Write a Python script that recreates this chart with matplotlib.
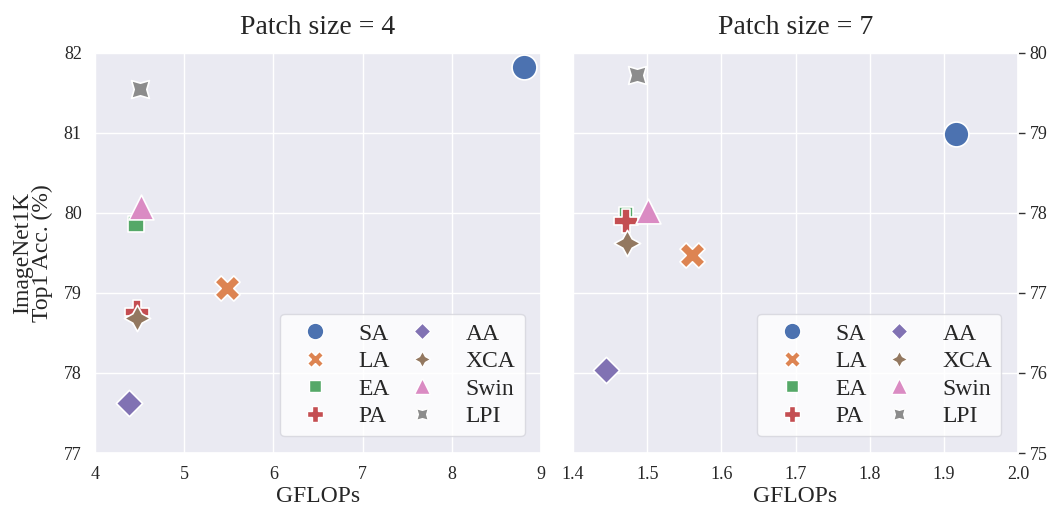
import matplotlib
matplotlib.use("Agg")
import matplotlib.pyplot as plt
from matplotlib.lines import Line2D
import seaborn as sns

sns.set_theme(style="darkgrid")
plt.rcParams['font.family'] = ['Liberation Serif', 'DejaVu Serif']

# methods and marker styles (seaborn defaults)
methods = ["SA", "LA", "EA", "PA", "AA", "XCA", "Swin", "LPI"]
markers = ["o", "X", (4, 0, 45), "P", (4, 0, 0), (4, 1, 0), "^", (4, 1, 45)]
colors = sns.color_palette("deep", 8)

# Patch size = 4
gflops_p4 = [8.81, 5.48, 4.46, 4.47, 4.38, 4.47, 4.51, 4.50]
acc_p4 = [81.82, 79.06, 79.86, 78.76, 77.63, 78.69, 80.08, 81.55]
sizes_p4 = [320, 330, 280, 300, 360, 360, 320, 330]

# Patch size = 7
gflops_p7 = [1.917, 1.561, 1.472, 1.472, 1.445, 1.473, 1.501, 1.486]
acc_p7 = [78.99, 77.48, 77.99, 77.9, 76.04, 77.63, 78.03, 79.72]
sizes_p7 = [320, 330, 180, 300, 360, 360, 320, 330]

fig = plt.figure(figsize=(10.51, 5.07), dpi=100)
ax1 = fig.add_axes([0.0904, 0.1065, 0.4244, 0.789])
ax2 = fig.add_axes([0.5452, 0.1065, 0.4234, 0.789])


def draw(ax, xs, ys, ss):
    for i in range(len(methods)):
        ax.scatter(xs[i], ys[i], s=ss[i], marker=markers[i], color=colors[i],
                   edgecolor="white", linewidth=1.2, zorder=3)
    handles = [Line2D([], [], linestyle="none", marker=markers[i], color=colors[i],
                      markeredgecolor="white", markersize=12, label=methods[i])
               for i in range(len(methods))]
    leg = ax.legend(handles=handles, ncol=2, loc="lower right", fontsize=17,
                    handletextpad=0.8, columnspacing=0.3, labelspacing=0.25,
                    borderpad=0.4, handlelength=2.1, borderaxespad=0.7,
                    facecolor="white", edgecolor="#d5d5dc", framealpha=0.8)
    return leg


draw(ax1, gflops_p4, acc_p4, sizes_p4)
ax1.set_xlim(4, 9)
ax1.set_ylim(77, 82)
ax1.set_xticks([4, 5, 6, 7, 8, 9])
ax1.set_yticks([77, 78, 79, 80, 81, 82])
ax1.set_title("Patch size = 4", fontsize=20, pad=14)
ax1.set_xlabel("GFLOPs", fontsize=17, labelpad=2)
ax1.set_ylabel("ImageNet1K\nTop1 Acc. (%)", fontsize=17, linespacing=0.9, labelpad=8)
ax1.tick_params(labelsize=13)

draw(ax2, gflops_p7, acc_p7, sizes_p7)
ax2.set_xlim(1.4, 2.0)
ax2.set_ylim(75, 80)
ax2.set_xticks([1.4, 1.5, 1.6, 1.7, 1.8, 1.9, 2.0])
ax2.set_yticks([75, 76, 77, 78, 79, 80])
ax2.yaxis.tick_right()
ax2.tick_params(axis="y", length=5, width=1, color="#333333", labelsize=13)
ax2.tick_params(axis="x", labelsize=13)
ax2.set_title("Patch size = 7", fontsize=20, pad=14)
ax2.set_xlabel("GFLOPs", fontsize=17, labelpad=2)

fig.savefig("out.png", dpi=100)
